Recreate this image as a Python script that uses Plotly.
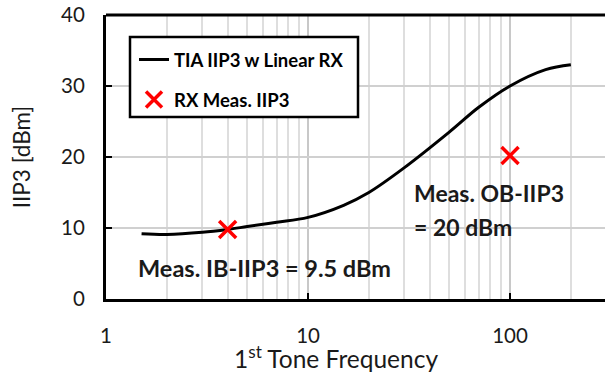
import plotly.graph_objects as go

# Data
freq_curve = [1.5, 2, 3, 4, 5, 7, 10, 15, 20, 30, 50, 70, 100, 150, 200]
iip3_curve = [9.2, 9.1, 9.4, 9.8, 10.2, 10.8, 11.5, 13.2, 15.0, 18.5, 23.5, 27.0, 30.0, 32.3, 33.0]
meas_freq = [4, 100]
meas_iip3 = [9.8, 20.2]
y_ticks = [0, 10, 20, 30, 40]
x_ticks = [1, 10, 100]
minor_vals = [m * d for d in (1, 10, 100) for m in range(2, 10) if m * d <= 300]

FONT = "Lato"

fig = go.Figure()
fig.add_trace(go.Scatter(
    x=freq_curve, y=iip3_curve, mode="lines",
    line=dict(color="black", width=3, shape="spline"),
    name="<b>TIA IIP3 w Linear RX</b>", legendgroup="a"))
fig.add_trace(go.Scatter(
    x=meas_freq, y=meas_iip3, mode="markers",
    marker=dict(symbol="x-thin", size=17, line=dict(color="#ff0000", width=3.5), color="#ff0000"),
    name="<b>RX Meas. IIP3</b>", legendgroup="b"))

L, T, B = 106, 15, 78
W, H = 605, 377
pw, ph = W - L, H - T - B

def px(xp):
    return (xp - L) / pw

def py(yp):
    return (H - B - yp) / ph

fig.add_shape(type="rect", xref="paper", yref="paper",
              x0=px(130), x1=px(358), y0=py(117), y1=py(37),
              line=dict(color="black", width=2.5), fillcolor="white", layer="above")

fig.add_annotation(x=px(136), y=py(268), xref="paper", yref="paper", xanchor="left", yanchor="middle",
                   text="<b>Meas. IB-IIP3 = 9.5 dBm</b>", showarrow=False,
                   font=dict(family=FONT, size=23.5, color="#1a1a1a"))
fig.add_annotation(x=px(412), y=py(193), xref="paper", yref="paper", xanchor="left", yanchor="middle",
                   text="<b>Meas. OB-IIP3</b>", showarrow=False, align="left",
                   font=dict(family=FONT, size=23, color="#1a1a1a"))
fig.add_annotation(x=px(412), y=py(227), xref="paper", yref="paper", xanchor="left", yanchor="middle",
                   text="<b>= 20 dBm</b>", showarrow=False, align="left",
                   font=dict(family=FONT, size=23, color="#1a1a1a"))
fig.add_annotation(x=px(336), y=py(357), xref="paper", yref="paper", xanchor="center", yanchor="middle",
                   text="1<sup>st</sup> Tone Frequency", showarrow=False,
                   font=dict(family=FONT, size=24.5, color="#1a1a1a"))

fig.update_layout(
    width=W, height=H,
    margin=dict(l=L, r=0, t=T, b=B),
    plot_bgcolor="white", paper_bgcolor="white",
    font=dict(family=FONT, size=20, color="#1a1a1a"),
    showlegend=True,
    legend=dict(x=px(134), y=py(41), xanchor="left", yanchor="top",
                bgcolor="rgba(0,0,0,0)", borderwidth=0,
                font=dict(family=FONT, size=18.5, color="black"),
                tracegroupgap=13),
    xaxis=dict(type="log", range=[0, 2.47],
               tickvals=x_ticks, ticktext=[str(v) for v in x_ticks],
               showgrid=True, gridcolor="#c8c8c8", gridwidth=1.5,
               minor=dict(tickvals=minor_vals, showgrid=True, gridcolor="#dedede", gridwidth=1.5, ticks=""),
               showline=True, linecolor="black", linewidth=3, mirror=False,
               ticks="inside", ticklen=6, tickwidth=2, tickcolor="black",
               tickfont=dict(size=20.5), ticklabelstandoff=16,
               zeroline=False),
    yaxis=dict(range=[0, 40], tickvals=y_ticks,
               showgrid=True, gridcolor="#d0d0d0", gridwidth=1.5,
               showline=True, linecolor="black", linewidth=3,
               ticks="inside", ticklen=6, tickwidth=2, tickcolor="black",
               tickfont=dict(size=20.5), ticklabelstandoff=14,
               title=dict(text="IIP3 [dBm]", font=dict(size=22.5), standoff=25),
               zeroline=False),
)
# top border line
fig.add_shape(type="line", xref="paper", yref="paper", x0=0, x1=1, y0=1, y1=1,
              line=dict(color="black", width=3), layer="above")

fig.write_html("out.html")
